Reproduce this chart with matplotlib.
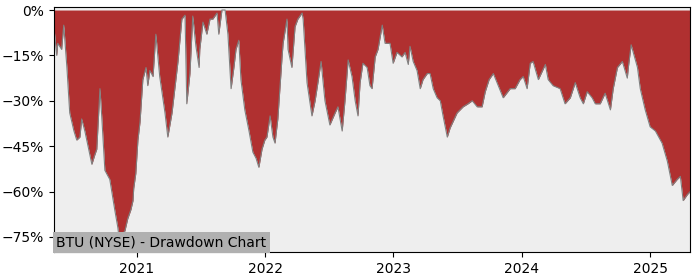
import matplotlib
matplotlib.use("Agg")
import matplotlib.pyplot as plt
import matplotlib.dates as mdates
import pandas as pd

# drawdown values (percent)
dates = ["2020-05-10", "2020-05-18", "2020-05-21", "2020-06-01", "2020-06-07", "2020-06-16",
         "2020-06-24", "2020-07-06", "2020-07-14", "2020-07-23", "2020-07-28", "2020-08-06",
         "2020-08-15", "2020-08-26", "2020-09-03", "2020-09-09", "2020-09-18", "2020-09-23",
         "2020-10-02", "2020-10-16", "2020-10-30", "2020-11-08", "2020-11-14", "2020-11-22",
         "2020-11-28", "2020-12-06", "2020-12-15", "2020-12-21", "2020-12-23", "2020-12-29",
         "2021-01-04", "2021-01-10", "2021-01-18", "2021-01-27", "2021-02-01", "2021-02-07",
         "2021-02-16", "2021-02-24", "2021-03-07", "2021-03-22", "2021-03-30", "2021-04-11",
         "2021-04-19", "2021-04-28", "2021-05-09", "2021-05-18", "2021-05-23", "2021-06-01",
         "2021-06-09", "2021-06-18", "2021-06-27", "2021-06-29", "2021-07-08", "2021-07-19",
         "2021-07-28", "2021-08-05", "2021-08-17", "2021-08-22", "2021-08-31", "2021-09-09",
         "2021-09-17", "2021-09-26", "2021-10-04", "2021-10-10", "2021-10-18", "2021-10-24",
         "2021-11-04", "2021-11-16", "2021-11-27", "2021-12-06", "2021-12-14", "2021-12-23",
         "2021-12-31", "2022-01-06", "2022-01-15", "2022-01-23", "2022-01-29", "2022-02-06",
         "2022-02-18", "2022-02-21", "2022-03-04", "2022-03-07", "2022-03-18", "2022-03-27",
         "2022-04-04", "2022-04-16", "2022-04-19", "2022-04-30", "2022-05-14", "2022-05-23",
         "2022-05-31", "2022-06-09", "2022-06-20", "2022-07-04", "2022-07-19", "2022-07-27",
         "2022-08-08", "2022-08-16", "2022-08-25", "2022-09-05", "2022-09-14", "2022-09-22",
         "2022-09-28", "2022-10-06", "2022-10-18", "2022-10-26", "2022-11-01", "2022-11-10",
         "2022-11-18", "2022-11-30", "2022-12-02", "2022-12-08", "2022-12-22", "2022-12-31",
         "2023-01-11", "2023-01-25", "2023-02-03", "2023-02-12", "2023-02-17", "2023-02-26",
         "2023-03-09", "2023-03-18", "2023-03-26", "2023-04-07", "2023-04-15", "2023-04-24",
         "2023-05-05", "2023-05-14", "2023-05-22", "2023-06-03", "2023-06-11", "2023-07-01",
         "2023-07-18", "2023-08-01", "2023-08-13", "2023-08-27", "2023-09-10", "2023-09-19",
         "2023-09-30", "2023-10-12", "2023-10-26", "2023-11-09", "2023-11-29", "2023-12-13",
         "2023-12-27", "2024-01-05", "2024-01-16", "2024-01-25", "2024-02-02", "2024-02-17",
         "2024-03-08", "2024-03-16", "2024-03-30", "2024-04-19", "2024-05-03", "2024-05-18",
         "2024-06-01", "2024-06-15", "2024-06-24", "2024-07-05", "2024-07-19", "2024-07-28",
         "2024-08-11", "2024-08-25", "2024-09-09", "2024-09-17", "2024-09-29", "2024-10-13",
         "2024-10-27", "2024-10-30", "2024-11-07", "2024-11-13", "2024-11-25", "2024-12-03",
         "2024-12-17", "2024-12-31", "2025-01-15", "2025-01-29", "2025-02-03", "2025-02-18",
         "2025-03-04", "2025-03-18", "2025-03-27", "2025-04-04", "2025-04-16", "2025-04-24"]
drawdown = [-5.6, -15, -11, -13, -5, -19,
            -34, -40, -43, -42, -36, -40,
            -45, -51, -48, -46, -26, -35,
            -53, -56, -66, -72, -78, -74,
            -73, -69, -66, -63, -59, -54,
            -43, -37, -23, -19, -25, -20,
            -22, -8, -22, -34, -42, -34,
            -26, -17, -3, -1.7, -31, -21,
            -2, -12, -19, -13, -4, -8,
            -3, -3, -1, -8, 0, 0,
            -8, -26, -19, -13, -10, -23,
            -33, -40, -47, -49, -52, -46,
            -43, -42, -35, -42, -44, -36,
            -15.5, -11, -3, -13, -19, -5.5,
            -3, -1, -3, -24, -35, -30,
            -24, -17, -30, -38, -34, -32,
            -40, -30, -16.5, -22, -30, -35,
            -24, -17.6, -19, -25, -26, -15.5,
            -13, -5, -6.6, -11, -11, -17.6,
            -14, -15.5, -14, -18, -12, -17,
            -20, -26, -23, -21, -21, -26,
            -29, -30, -35, -42, -39, -34,
            -32, -31, -30, -32, -32, -27,
            -23, -21, -25, -29, -26, -26,
            -23, -22, -26, -17.6, -17, -23,
            -18, -23, -25, -26, -31, -29,
            -24, -29, -31, -27, -29, -31,
            -31, -27.5, -33, -26, -19, -17,
            -22.5, -19, -11.5, -14, -19, -26,
            -33, -38.6, -40, -43, -44, -50,
            -58, -56, -55, -63, -61, -60]
yticks = [0, -15, -30, -45, -60, -75]

x = pd.to_datetime(dates)

fig = plt.figure(figsize=(7, 2.8), dpi=100)
ax = fig.add_axes([0.077, 0.1, 0.909, 0.875])
ax.set_facecolor("#eeeeee")
ax.fill_between(x, drawdown, 0, color="#b03030", linewidth=0)
ax.plot(x, drawdown, color="#808080", linewidth=0.8)

ax.set_xlim(x[0], x[-1])
ax.set_ylim(-80, 1)
ax.set_yticks(yticks)
ax.set_yticklabels([("\u2212%d%%" % -t) if t < 0 else "%d%%" % t for t in yticks])
ax.xaxis.set_major_locator(mdates.YearLocator())
ax.xaxis.set_major_formatter(mdates.DateFormatter("%Y"))

ax.text(0.004, 0.012, "BTU (NYSE) - Drawdown Chart", transform=ax.transAxes,
        fontsize=10, va="bottom", ha="left",
        bbox=dict(facecolor="#b0b0b0", edgecolor="none", pad=2.5))

fig.savefig("out.png")
